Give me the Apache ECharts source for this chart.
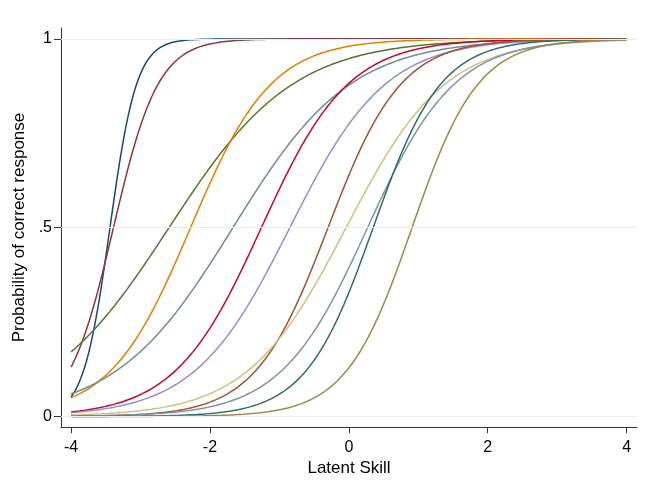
<!DOCTYPE html>
<html>
<head>
<meta charset="utf-8">
<script src="https://cdn.jsdelivr.net/npm/echarts@6/dist/echarts.min.js"></script>
<style>
  html, body { margin: 0; padding: 0; background: #fff; }
  #chart { width: 658px; height: 482px; }
</style>
</head>
<body>
<div id="chart"></div>
<script>
// item parameters (2PL): slope and location of each curve
var items = ['q1', 'q2', 'q3', 'q4', 'q5', 'q6', 'q7', 'q8', 'q9', 'q10', 'q11', 'q12'];
var discrimination = [5.2, 3.1, 1.12, 1.72, 1.18, 1.6, 1.45, 1.9, 1.4, 1.6, 2.05, 2.1];
var difficulty = [-3.44, -3.39, -2.59, -2.28, -1.67, -1.26, -0.85, -0.3, -0.04, 0.27, 0.35, 0.91];

var xTicks = [-4, -2, 0, 2, 4];
var yTicks = [0, 0.5, 1];
var yTickLabels = ['0', '.5', '1'];

// one colour per item, in item order
var palette = ['#1a476f', '#90353b', '#55752f', '#e37e00', '#6e8e84', '#c10534',
               '#938dd2', '#a0522d', '#cac27e', '#7b92a8', '#2d6d66', '#9c8847'];

var thetaMin = -4, thetaMax = 4, step = 0.02;

function icc(a, b) {
    var pts = [];
    var n = Math.round((thetaMax - thetaMin) / step);
    for (var i = 0; i <= n; i++) {
        var t = thetaMin + i * step;
        pts.push([t, 1 / (1 + Math.exp(-a * (t - b)))]);
    }
    return pts;
}

var series = items.map(function (name, i) {
    return {
        name: name,
        type: 'line',
        showSymbol: false,
        silent: true,
        lineStyle: { width: 1.5, color: palette[i] },
        data: icc(discrimination[i], difficulty[i])
    };
});

// light gridlines at the labelled y values
series[0].markLine = {
    silent: true,
    symbol: 'none',
    label: { show: false },
    lineStyle: { color: '#e8eff1', width: 1, type: 'solid' },
    data: yTicks.map(function (v) { return { yAxis: v }; })
};
series[0].z = 1;

var font = 'Liberation Sans';

var chart = echarts.init(document.getElementById('chart'));
chart.setOption({
    animation: false,
    backgroundColor: '#fff',
    grid: { left: 61, top: 28, right: 21, bottom: 54, containLabel: false },
    xAxis: {
        type: 'value',
        min: -4.145,
        max: 4.15,
        name: 'Latent Skill',
        nameLocation: 'middle',
        nameGap: 27,
        nameTextStyle: { fontFamily: font, fontSize: 17, color: '#000' },
        axisLine: { show: true, onZero: false, lineStyle: { color: '#333', width: 1 } },
        axisTick: { show: true, length: 6, customValues: xTicks, lineStyle: { color: '#333' } },
        axisLabel: {
            customValues: xTicks,
            fontFamily: font, fontSize: 16, color: '#000', margin: 12
        },
        splitLine: { show: false }
    },
    yAxis: {
        type: 'value',
        min: -0.028,
        max: 1.029,
        name: 'Probability of correct response',
        nameLocation: 'middle',
        nameGap: 31,
        nameTextStyle: { fontFamily: font, fontSize: 17, color: '#000' },
        axisLine: { show: true, onZero: false, lineStyle: { color: '#333', width: 1 } },
        axisTick: { show: true, length: 7, customValues: yTicks, lineStyle: { color: '#333' } },
        axisLabel: {
            customValues: yTicks,
            formatter: function (v) { return yTickLabels[yTicks.indexOf(v)]; },
            fontFamily: font, fontSize: 16, color: '#000', margin: 9
        },
        splitLine: { show: false }
    },
    series: series
});
</script>
</body>
</html>
